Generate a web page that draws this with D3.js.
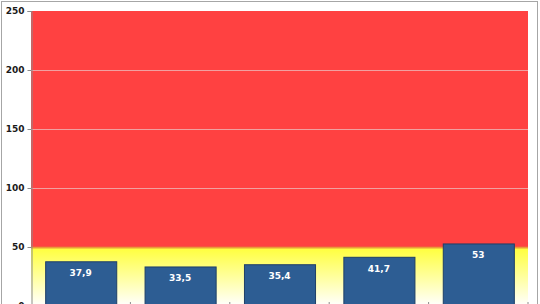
<!DOCTYPE html>
<html>
<head>
<meta charset="utf-8">
<script src="https://cdn.jsdelivr.net/npm/d3@7"></script>
<style>
  body { margin: 0; background: #fff; }
  svg { display: block; }
</style>
</head>
<body>
<svg id="chart" width="540" height="304"></svg>
<script>
// values
const categories = ["A", "B", "C", "D", "E"];
const values = [37.9, 33.5, 35.4, 41.7, 53];
const labels = ["37,9", "33,5", "35,4", "41,7", "53"];
const yTicks = [0, 50, 100, 150, 200, 250];
const zones = [{ from: 0, to: 50, fill: "url(#yellowGrad)" }, { from: 50, to: 250, fill: "#ff4141" }];

const svg = d3.select("#chart");
const margin = { left: 31, right: 12, top: 11 };
const plotRight = 528;
const zeroY = 306;

const x = d3.scaleBand()
    .domain(categories)
    .range([margin.left, plotRight])
    .paddingInner(0.285)
    .paddingOuter(0.1425);

const y = d3.scaleLinear()
    .domain([0, 250])
    .range([zeroY, margin.top]);

// outer frame
svg.append("rect")
    .attr("x", 1.5).attr("y", 1.5)
    .attr("width", 536).attr("height", 310)
    .attr("fill", "#fff")
    .attr("stroke", "#a6a6a6");

const defs = svg.append("defs");
const grad = defs.append("linearGradient")
    .attr("id", "yellowGrad")
    .attr("x1", 0).attr("y1", 0).attr("x2", 0).attr("y2", 1);
grad.append("stop").attr("offset", "0%").attr("stop-color", "#ffff3a");
grad.append("stop").attr("offset", "100%").attr("stop-color", "#ffffff");

// background zones
svg.selectAll("rect.zone")
    .data(zones)
    .join("rect")
    .attr("class", "zone")
    .attr("x", margin.left)
    .attr("y", d => y(d.to))
    .attr("width", plotRight - margin.left)
    .attr("height", d => y(d.from) - y(d.to))
    .attr("fill", d => d.fill);

// boundary between zones
svg.append("line")
    .attr("x1", margin.left).attr("x2", plotRight)
    .attr("y1", y(50) + 0.5).attr("y2", y(50) + 0.5)
    .attr("stroke", "#e8823a").attr("stroke-width", 2).attr("opacity", 0.8);

// gridlines
svg.selectAll("line.grid")
    .data([100, 150, 200])
    .join("line")
    .attr("class", "grid")
    .attr("x1", margin.left).attr("x2", plotRight)
    .attr("y1", d => Math.round(y(d)) + 0.5)
    .attr("y2", d => Math.round(y(d)) + 0.5)
    .attr("stroke", "#f0a0a0").attr("stroke-width", 1);

// y axis
const yAxis = d3.axisLeft(y).tickValues(yTicks).tickSize(4).tickPadding(3);
const gy = svg.append("g")
    .attr("transform", `translate(${margin.left + 0.5},0)`)
    .call(yAxis);
gy.select(".domain").attr("stroke", "#8c8c8c");
gy.selectAll(".tick line").attr("stroke", "#8c8c8c");
gy.selectAll(".tick text")
    .attr("fill", "#1a1a1a")
    .style("font-family", "'DejaVu Sans', sans-serif")
    .style("font-size", "9px")
    .style("font-weight", "bold");

// category tick marks at the bottom
const bounds = categories.map((c, i) => x(c) - x.step() * x.paddingInner() / 2);
svg.selectAll("line.xtick")
    .data(bounds.slice(1).concat([plotRight]))
    .join("line")
    .attr("class", "xtick")
    .attr("x1", d => d).attr("x2", d => d)
    .attr("y1", zeroY - 4).attr("y2", zeroY + 4)
    .attr("stroke", "#8c8c8c");

// bars
svg.selectAll("rect.bar")
    .data(values)
    .join("rect")
    .attr("class", "bar")
    .attr("x", (d, i) => x(categories[i]) + 0.5)
    .attr("y", d => y(d) + 0.5)
    .attr("width", x.bandwidth())
    .attr("height", d => zeroY - y(d))
    .attr("fill", "#2d5d93")
    .attr("stroke", "#1f3f66")
    .attr("stroke-width", 1);

// value labels
svg.selectAll("text.val")
    .data(values)
    .join("text")
    .attr("class", "val")
    .attr("x", (d, i) => x(categories[i]) + x.bandwidth() / 2)
    .attr("y", d => y(d) + 15)
    .attr("text-anchor", "middle")
    .attr("fill", "#ffffff")
    .style("font-family", "'DejaVu Sans', sans-serif")
    .style("font-size", "9px")
    .style("font-weight", "bold")
    .text((d, i) => labels[i]);
</script>
</body>
</html>
